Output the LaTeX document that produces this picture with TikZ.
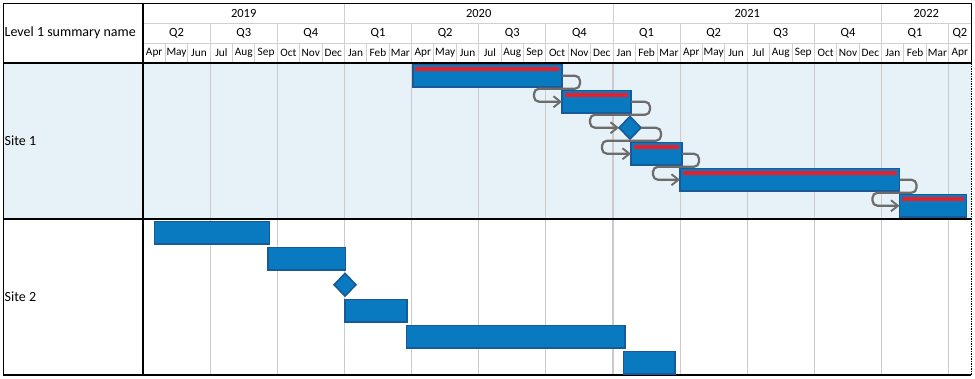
\documentclass[tikz,border=0pt]{standalone}
\usepackage{fontspec}
\setmainfont{Carlito}
\usetikzlibrary{shapes.geometric,arrows.meta,calc}
\definecolor{barfill}{RGB}{9,122,192}
\definecolor{barline}{RGB}{24,90,152}
\definecolor{stripec}{RGB}{236,30,40}
\definecolor{sitebg}{RGB}{231,241,248}
\definecolor{gridc}{RGB}{203,203,203}
\definecolor{hdrc}{RGB}{208,208,208}
\definecolor{connc}{RGB}{108,108,108}
\tikzset{
  taskbar/.style={draw=barline, fill=barfill, line width=1.6pt, inner sep=0pt, outer sep=0pt,
    minimum height=22.5pt, anchor=north west, rectangle},
  milestone/.style={draw=barline, fill=barfill, line width=1.6pt, diamond, aspect=1,
    minimum width=22pt, minimum height=22.5pt, inner sep=0pt, outer sep=0pt},
  conn/.style={draw=connc, line width=2.2pt, rounded corners=5pt,
    -{Straight Barb[length=7pt,width=11pt,line width=1.9pt]}},
  hdr/.style={font=\fontsize{12.5}{12.5}\selectfont, inner sep=0pt},
  mon/.style={font=\fontsize{11.3}{11.3}\selectfont, inner sep=0pt},
  lbl/.style={font=\fontsize{14}{14}\selectfont, inner sep=0pt, anchor=west},
}
\newcommand{\stripeon}[1]{\fill[stripec] ([xshift=2.6pt,yshift=-2.3pt]#1.north west) rectangle ([xshift=-2.6pt,yshift=-6.2pt]#1.north east);}
\begin{document}
\begin{tikzpicture}[x=1pt,y=-1pt]
\useasboundingbox (0,0) rectangle (975,378);
\def\xo{143}
\def\mw{22.38}
% background of site 1
\fill[sitebg] (3.5,63) rectangle (971,219);
% body gridlines (quarters)
\foreach \i in {3,6,...,36} {
  \draw[gridc, line width=1.2pt] ({\xo+\i*\mw},63) -- ({\xo+\i*\mw},375);
}
% header lines
\draw[hdrc, line width=0.9pt] (\xo,23) -- (971,23);
\draw[hdrc, line width=0.9pt] (\xo,43) -- (971,43);
\foreach \i in {9,21,33} {
  \draw[hdrc, line width=0.9pt] ({\xo+\i*\mw},3) -- ({\xo+\i*\mw},63);
}
\foreach \i in {3,6,12,15,18,24,27,30,36} {
  \draw[hdrc, line width=0.9pt] ({\xo+\i*\mw},23) -- ({\xo+\i*\mw},63);
}
\foreach \i in {1,2,4,5,7,8,10,11,13,14,16,17,19,20,22,23,25,26,28,29,31,32,34,35} {
  \draw[hdrc, line width=0.9pt] ({\xo+\i*\mw},43) -- ({\xo+\i*\mw},63);
}
% header texts
\node[hdr] (y2019) at ({\xo+4.5*\mw},13) {2019};
\node[hdr] (y2020) at ({\xo+15*\mw},13) {2020};
\node[hdr] (y2021) at ({\xo+27*\mw},13) {2021};
\node[hdr] (y2022) at ({\xo+35*\mw},13) {2022};
\foreach \q [count=\k from 0] in {Q2,Q3,Q4,Q1,Q2,Q3,Q4,Q1,Q2,Q3,Q4,Q1} {
  \node[hdr] (q\k) at ({\xo+(3*\k+1.5)*\mw},33) {\q};
}
\node[hdr] (qlast) at ({\xo+36.5*\mw},33) {Q2};
\foreach \m [count=\i from 0] in {Apr,May,Jun,Jul,Aug,Sep,Oct,Nov,Dec,Jan,Feb,Mar,Apr,May,Jun,Jul,Aug,Sep,Oct,Nov,Dec,Jan,Feb,Mar,Apr,May,Jun,Jul,Aug,Sep,Oct,Nov,Dec,Jan,Feb,Mar,Apr} {
  \node[mon] (m\i) at ({\xo+(\i+0.5)*\mw},53) {\m};
}
\node[lbl] (head) at (4.5,33) {Level 1 summary name};
\node[lbl] (site1) at (4.5,141) {Site 1};
\node[lbl] (site2) at (4.5,297) {Site 2};
% frame lines
\draw[black, line width=1pt] (3,3) -- (971,3);
\draw[black, line width=1pt] (3.5,3) -- (3.5,375);
\draw[black, line width=1.3pt] (143,3) -- (143,375);
\draw[black, line width=1pt] (971,3) -- (971,63);
\draw[black, line width=1pt, dash pattern=on 1.5pt off 1pt] (971,63) -- (971,375);
\draw[black, line width=1.4pt] (3,63) -- (971,63);
\draw[black, line width=2.2pt] (3,219) -- (971,219);
\draw[black, line width=2.2pt] (3,375) -- (971,375);
% site 1 tasks
\node[taskbar, minimum width=149.3pt] (a1) at (412.7,64.5) {};
\node[taskbar, minimum width=69pt] (a2) at (562,90.5) {};
\node[milestone] (a3) at (630,127.75) {};
\node[taskbar, minimum width=51pt] (a4) at (631,142.5) {};
\node[taskbar, minimum width=219.5pt] (a5) at (680,168.5) {};
\node[taskbar, minimum width=67pt] (a6) at (899.5,194.5) {};
\stripeon{a1}\stripeon{a2}\stripeon{a4}\stripeon{a5}\stripeon{a6}
% connectors
\draw[conn] (a1.east) -- ++(18,0) -- ++(0,13) -| ([xshift=-28pt]a2.west) -- (a2.west);
\draw[conn] (a2.east) -- ++(19,0) -- ++(0,13) -| ([xshift=-29pt]a3.west) -- (a3.west);
\draw[conn] (a3.east) -- ++(20,0) -- ++(0,13) -| ([xshift=-29pt]a4.west) -- (a4.west);
\draw[conn] (a4.east) -- ++(17,0) -- ++(0,13) -| ([xshift=-27pt]a5.west) -- (a5.west);
\draw[conn] (a5.east) -- ++(17,0) -- ++(0,13) -| ([xshift=-27pt]a6.west) -- (a6.west);
% site 2 tasks
\node[taskbar, minimum width=115pt] (b1) at (154.5,221.5) {};
\node[taskbar, minimum width=77.5pt] (b2) at (268,247.5) {};
\node[milestone] (b3) at (345,284.75) {};
\node[taskbar, minimum width=62pt] (b4) at (345,299.5) {};
\node[taskbar, minimum width=218.5pt] (b5) at (406.5,325.5) {};
\node[taskbar, minimum width=51.5pt] (b6) at (623.5,351.5) {};
\end{tikzpicture}
\end{document}
